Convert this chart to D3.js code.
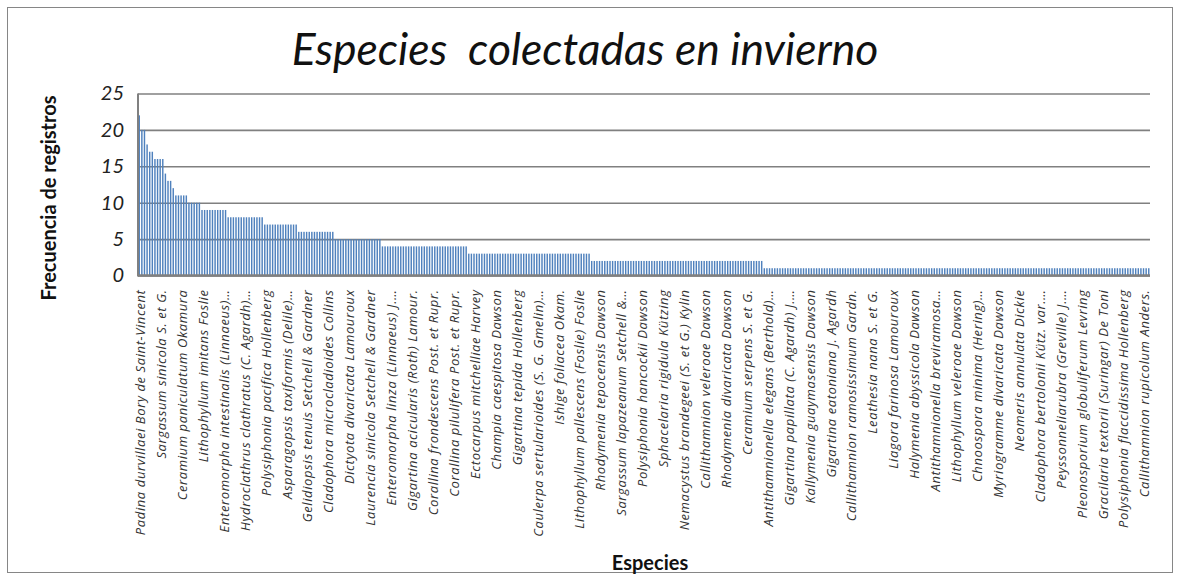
<!DOCTYPE html>
<html><head><meta charset="utf-8">
<script src="https://cdn.jsdelivr.net/npm/d3@7"></script>
<style>body{margin:0;background:#fff}</style>
</head><body>
<svg id="c" width="1180" height="577"></svg>
<script>
const chartTitle = "Especies  colectadas en invierno";
const yAxisTitle = "Frecuencia de registros";
const xAxisTitle = "Especies";
const yTicks = [0, 5, 10, 15, 20, 25];
const labelInterval = 8;
const speciesLabels = [
  "Padina durvillaei Bory de Saint-Vincent",
  "Sargassum sinicola S. et G.",
  "Ceramium paniculatum Okamura",
  "Lithophyllum imitans Foslie",
  "Enteromorpha intestinalis (Linnaeus)…",
  "Hydroclathrus clathratus (C. Agardh)…",
  "Polysiphonia pacifica Hollenberg",
  "Asparagopsis taxiformis (Delile)…",
  "Gelidiopsis tenuis Setchell & Gardner",
  "Cladophora microcladioides Collins",
  "Dictyota divaricata Lamouroux",
  "Laurencia sinicola Setchell & Gardner",
  "Enteromorpha linza (Linnaeus) J.…",
  "Gigartina acicularis (Roth) Lamour.",
  "Corallina frondescens Post. et Rupr.",
  "Corallina pilulifera Post. et Rupr.",
  "Ectocarpus mitchelliae Harvey",
  "Champia caespitosa Dawson",
  "Gigartina tepida Hollenberg",
  "Caulerpa sertularioides (S. G. Gmelin)…",
  "Ishige foliacea Okam.",
  "Lithophyllum pallescens (Foslie) Foslie",
  "Rhodymenia tepocensis Dawson",
  "Sargassum lapazeanum Setchell &…",
  "Polysiphonia hancockii Dawson",
  "Sphacelaria rigidula Kützing",
  "Nemacystus brandegeei (S. et G.) Kylin",
  "Callithamnion veleroae Dawson",
  "Rhodymenia divaricata Dawson",
  "Ceramium serpens S. et G.",
  "Antithamnionella elegans (Berthold)…",
  "Gigartina papillata (C. Agardh) J.…",
  "Kallymenia guaymasensis Dawson",
  "Gigartina eatoniana J. Agardh",
  "Callithamnion ramosissimum Gardn.",
  "Leathesia nana S. et G.",
  "Liagora farinosa Lamouroux",
  "Halymenia abyssicola Dawson",
  "Antithamnionella breviramosa…",
  "Lithophyllum veleroae Dawson",
  "Chnoospora minima (Hering)…",
  "Myriogramme divaricata Dawson",
  "Neomeris annulata Dickie",
  "Cladophora bertolonii Kütz. var.…",
  "Peyssonneliarubra (Greville) J.…",
  "Pleonosporium globuliferum Levring",
  "Gracilaria textorii (Suringar) De Toni",
  "Polysiphonia flaccidissima Hollenberg",
  "Callithamnion rupicolum Anders."
];
const frequencies = [
  22,20,20,18,17,17,16,16,16,16,14,13,13,12,11,11,11,11,11,10,
  10,10,10,10,9,9,9,9,9,9,9,9,9,9,8,8,8,8,8,8,
  8,8,8,8,8,8,8,8,7,7,7,7,7,7,7,7,7,7,7,7,
  7,6,6,6,6,6,6,6,6,6,6,6,6,6,6,5,5,5,5,5,
  5,5,5,5,5,5,5,5,5,5,5,5,5,4,4,4,4,4,4,4,
  4,4,4,4,4,4,4,4,4,4,4,4,4,4,4,4,4,4,4,4,
  4,4,4,4,4,4,3,3,3,3,3,3,3,3,3,3,3,3,3,3,
  3,3,3,3,3,3,3,3,3,3,3,3,3,3,3,3,3,3,3,3,
  3,3,3,3,3,3,3,3,3,3,3,3,3,2,2,2,2,2,2,2,
  2,2,2,2,2,2,2,2,2,2,2,2,2,2,2,2,2,2,2,2,
  2,2,2,2,2,2,2,2,2,2,2,2,2,2,2,2,2,2,2,2,
  2,2,2,2,2,2,2,2,2,2,2,2,2,2,2,2,2,2,2,1,
  1,1,1,1,1,1,1,1,1,1,1,1,1,1,1,1,1,1,1,1,
  1,1,1,1,1,1,1,1,1,1,1,1,1,1,1,1,1,1,1,1,
  1,1,1,1,1,1,1,1,1,1,1,1,1,1,1,1,1,1,1,1,
  1,1,1,1,1,1,1,1,1,1,1,1,1,1,1,1,1,1,1,1,
  1,1,1,1,1,1,1,1,1,1,1,1,1,1,1,1,1,1,1,1,
  1,1,1,1,1,1,1,1,1,1,1,1,1,1,1,1,1,1,1,1,
  1,1,1,1,1,1,1,1,1,1,1,1,1,1,1,1,1,1,1,1,
  1,1,1,1,1,1,1
];

const svg = d3.select("#c");
const plot = {left: 138, right: 1150, top: 93.5, bottom: 275.5};

svg.append("rect").attr("x", 7.5).attr("y", 7.5).attr("width", 1165).attr("height", 565)
  .attr("fill", "#fff").attr("stroke", "#868686").attr("stroke-width", 1);

const x = d3.scaleBand().domain(d3.range(frequencies.length))
  .range([plot.left, plot.right]).paddingInner(0.45).paddingOuter(0.2);
const y = d3.scaleLinear().domain([0, 25]).range([plot.bottom, plot.top]);

// gridlines + y tick labels
const yAxis = svg.append("g").attr("transform", `translate(${plot.left},0)`)
  .call(d3.axisLeft(y).tickValues(yTicks).tickSize(-(plot.right - plot.left)).tickPadding(14));
yAxis.select(".domain").remove();
yAxis.selectAll(".tick line").attr("stroke", "#808080").attr("stroke-width", 1.6);
yAxis.selectAll(".tick text").attr("font-family", "Lato, 'Open Sans', sans-serif")
  .attr("font-style", "italic").attr("font-size", 20).attr("fill", "#222");

// bars
svg.append("g").selectAll("rect").data(frequencies).join("rect")
  .attr("x", (d, i) => x(i)).attr("width", x.bandwidth())
  .attr("y", d => y(d)).attr("height", d => y(0) - y(d))
  .attr("fill", "#4F81BD");

// axis lines
svg.append("line").attr("x1", plot.left).attr("x2", plot.right).attr("y1", plot.bottom).attr("y2", plot.bottom)
  .attr("stroke", "#808080").attr("stroke-width", 2.5);
svg.append("line").attr("x1", plot.left).attr("x2", plot.left).attr("y1", plot.top).attr("y2", plot.bottom + 1)
  .attr("stroke", "#808080").attr("stroke-width", 2);

// category labels
const labelIdx = d3.range(0, frequencies.length, labelInterval);
const xAxis = svg.append("g").attr("transform", `translate(0,${plot.bottom})`)
  .call(d3.axisBottom(x).tickValues(labelIdx).tickSize(0)
    .tickFormat(i => speciesLabels[i / labelInterval]));
xAxis.select(".domain").remove();
xAxis.selectAll(".tick text")
  .attr("transform", "rotate(-90)")
  .attr("text-anchor", "end")
  .attr("x", -14).attr("y", 0).attr("dy", "0.45em")
  .attr("font-family", "'Open Sans', Lato, sans-serif")
  .attr("font-style", "italic").attr("font-size", 13).attr("letter-spacing", 0.6).attr("fill", "#333");

// titles
svg.append("text").attr("x", 585).attr("y", 65).attr("text-anchor", "middle")
  .attr("xml:space", "preserve").style("white-space", "pre")
  .attr("font-family", "Lato, 'Open Sans', sans-serif").attr("font-style", "italic")
  .attr("font-size", 44.5).attr("fill", "#111").text(chartTitle);
svg.append("text").attr("transform", "translate(56,198) rotate(-90)").attr("text-anchor", "middle")
  .attr("font-family", "Lato, 'Open Sans', sans-serif").attr("font-weight", "bold")
  .attr("font-size", 20).attr("fill", "#111").text(yAxisTitle);
svg.append("text").attr("x", 650).attr("y", 570).attr("text-anchor", "middle")
  .attr("font-family", "Lato, 'Open Sans', sans-serif").attr("font-weight", "bold")
  .attr("font-size", 20).attr("fill", "#111").text(xAxisTitle);
</script>
</body></html>
